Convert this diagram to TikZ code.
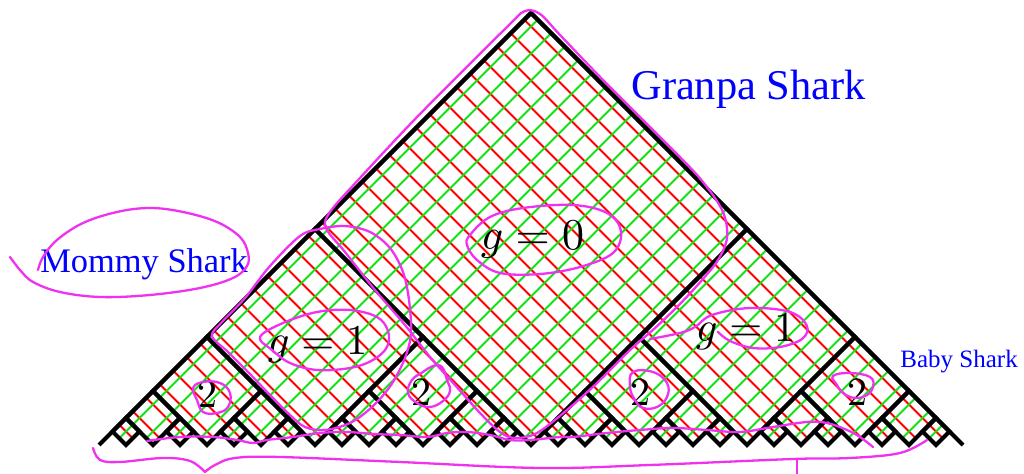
\documentclass[tikz,border=0pt]{standalone}
\usepackage[no-math]{fontspec}
\newfontfamily\tms{Liberation Serif}
\definecolor{hatchred}{RGB}{255,0,0}
\definecolor{hatchgreen}{RGB}{20,225,20}
\definecolor{pen}{RGB}{240,50,240}
\definecolor{labelblue}{RGB}{0,0,255}
\tikzset{
  blk/.style={black, line width=2pt, line join=miter},
  redline/.style={hatchred, line width=1.05pt},
  greenline/.style={hatchgreen, line width=1.05pt},
  penline/.style={pen, line width=1.15pt, line cap=round, line join=round},
  sharklabel/.style={text=labelblue, inner sep=0pt, anchor=base west},
  glabel/.style={inner sep=0pt, anchor=base west},
  twolabel/.style={inner sep=0pt, anchor=base, scale=2.0},
}
\begin{document}
\begin{tikzpicture}[x=0.5pt,y=-0.5pt]
\useasboundingbox (0,0) rectangle (1024,474);
% ---- hatched triangle with dyadic diamonds ----
\begin{scope}[shift={(531,445)}, x=6.75pt, y=6.75pt]
  \begin{scope}
    \clip (0,32) -- (32,0) \foreach \i in {31,29,...,-31} { -- (\i,1) -- (\i-1,0) } -- cycle;
    \foreach \c in {-31,-29,...,31} \draw[redline] (\c-33,33) -- (\c+33,-33);
    \foreach \c in {-31,-29,...,31} \draw[greenline] (\c-33,-33) -- (\c+33,33);
  \end{scope}
  \foreach \d in {0,...,4} {
    \pgfmathsetmacro\h{32/2^\d}
    \pgfmathtruncatemacro\n{2^\d-1}
    \foreach \k in {0,...,\n} {
      \pgfmathsetmacro\c{-32+\h+2*\h*\k}
      \draw[blk] (\c,\h) -- ({\c-\h/2},{\h/2}) -- (\c,0) -- ({\c+\h/2},{\h/2}) -- cycle;
    }
  }
  \draw[blk] (-32,0) -- (0,32) -- (32,0);
\end{scope}
% ---- labels ----
\node[sharklabel, font={\tms\fontsize{21.2}{25}\selectfont}] (granpa) at (631,100) {Granpa Shark};
\node[sharklabel, font={\tms\fontsize{17.2}{20}\selectfont}] (mommy) at (40,273) {Mommy Shark};
\node[sharklabel, font={\tms\fontsize{12.5}{15}\selectfont}] (baby) at (900,368) {Baby Shark};
\node[glabel, scale=2.2] (g0) at (480,250) {$g=0$};
\node[glabel, scale=2.12] (g1l) at (267,355) {$g=1$};
\node[glabel, scale=2.12] (g1r) at (695,342) {$g=1$};
\node[twolabel] (twoa) at (207,408) {$2$};
\node[twolabel] (twob) at (421,406) {$2$};
\node[twolabel] (twoc) at (640,406) {$2$};
\node[twolabel] (twod) at (857,406) {$2$};
% ---- magenta pen annotations ----
% g=0 region
\draw[penline] plot[smooth cycle, tension=0.55] coordinates {(330,212) (326,228) (345,252) (375,290) (405,325) (430,357) (455,385) (480,413) (500,432) (515,438) (537,433) (567,410) (597,383) (630,350) (655,328) (680,304) (702,280) (718,260) (727,238) (723,212) (703,182) (673,150) (605,82) (560,35) (540,14) (525,11) (508,26) (420,114) (360,178)};
% left g=1 region
\draw[penline] plot[smooth cycle, tension=0.55] coordinates {(300,236) (320,229) (345,226) (370,232) (390,248) (403,272) (409,300) (411,333) (405,358) (391,385) (372,407) (350,423) (325,430) (305,427) (290,415) (270,395) (248,372) (228,352) (212,336) (222,322) (245,298) (270,266)};
% g=0 ellipse
\draw[penline] plot[smooth cycle, tension=0.6] coordinates {(470,235) (490,217) (523,208) (573,205) (607,213) (621,231) (613,253) (580,267) (540,274) (500,273) (477,260) (467,245)};
% left g=1 teardrop
\draw[penline] plot[smooth cycle, tension=0.6] coordinates {(260,337) (283,323) (317,312) (350,310) (377,317) (388,331) (387,347) (373,360) (350,368) (317,370) (290,363) (272,350)};
% right g=1 loop
\draw[penline] plot[smooth, tension=0.6] coordinates {(650,339) (680,333) (695,327) (712,315) (750,308) (790,312) (807,326) (802,339) (780,347) (753,348) (730,341) (718,332)};
% Mommy Shark loop
\draw[penline] plot[smooth, tension=0.6] coordinates {(10,257) (20,270) (33,282) (60,292) (100,297) (150,295) (200,288) (233,278) (247,266) (248,253) (240,237) (217,222) (183,212) (150,208) (117,212) (83,223) (57,240) (43,257) (38,270)};
% circles round the 2s
\draw[penline] plot[smooth cycle, tension=0.7] coordinates {(193,388) (203,382) (220,383) (230,393) (228,407) (217,413) (203,412) (197,400)};
\draw[penline] plot[smooth cycle, tension=0.7] coordinates {(442,367) (447,380) (450,391) (443,401) (430,407) (417,403) (408,393) (412,380) (423,372) (433,366)};
\draw[penline] plot[smooth cycle, tension=0.7] coordinates {(633,372) (653,372) (667,383) (667,397) (657,407) (643,408) (635,400) (630,387)};
\draw[penline] plot[smooth cycle, tension=0.7] coordinates {(833,376) (850,373) (870,377) (873,387) (867,395) (855,398) (843,393) (837,385)};
% wavy line along the base
\draw[penline] plot[smooth, tension=0.6] coordinates {(147,441) (180,437) (213,437) (237,440) (253,443) (267,440) (293,437) (320,433) (347,432) (373,434) (400,435) (427,437) (447,433) (467,432) (490,435) (510,440) (530,440) (560,437) (573,437) (607,433) (640,430) (673,428) (707,430) (740,432) (773,427) (807,422) (827,423) (847,430) (860,437) (873,447)};
% brace under the base
\draw[penline] plot[smooth, tension=0.6] coordinates {(93,448) (100,460) (120,462) (163,458) (190,461) (205,472)};
\draw[penline] plot[smooth, tension=0.6] coordinates {(205,472) (215,465) (235,458) (280,457) (400,462) (540,468) (650,465) (793,459) (850,458) (900,453) (927,440)};
\coordinate (tickTop) at (797,459);
\coordinate (tickBot) at (797,474);
\draw[penline] (tickTop) -- (tickBot);
\end{tikzpicture}
\end{document}
